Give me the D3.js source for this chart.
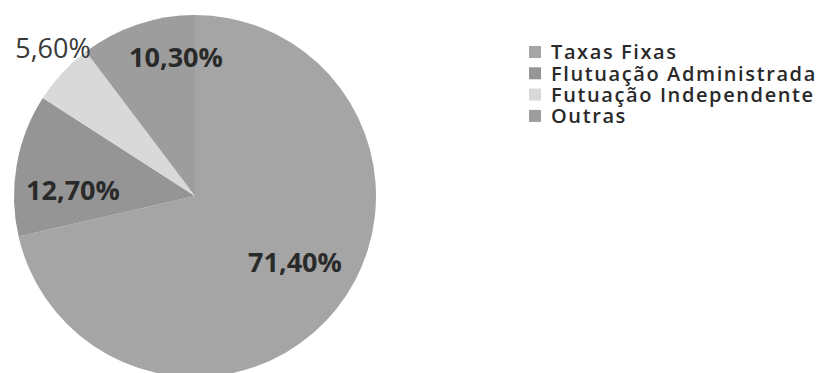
<!DOCTYPE html>
<html>
<head>
<meta charset="utf-8">
<script src="https://cdn.jsdelivr.net/npm/d3@7"></script>
<style>
  body { margin: 0; background: #fff; }
  text { font-family: 'Open Sans', sans-serif; }
</style>
</head>
<body>
<svg id="chart" width="821" height="373"></svg>
<script>
// data
const categories = ['Taxas Fixas', 'Flutuação Administrada', 'Futuação Independente', 'Outras']
const values = [71.4, 12.7, 5.6, 10.3]
const valueLabels = ['71,40%', '12,70%', '5,60%', '10,30%']

const colors = ['#a5a5a5', '#959595', '#d9d9d9', '#9d9d9d']
// where excel dropped the data labels (x, y, bold)
const labelPos = [[295, 262, 700], [73, 190, 700], [53, 48, 400], [176, 57, 700]]

let svg = d3.select('#chart')
let cx = 195
let cy = 196
let radius = 181

let pie = d3.pie().sort(null).value(d => d)
let arc = d3.arc().innerRadius(0).outerRadius(radius)

let g = svg.append('g')
    .attr('transform', 'translate(' + cx + ',' + cy + ')')

g.selectAll('path.slice')
    .data(pie(values))
  .enter().append('path')
    .attr('class', 'slice')
    .attr('d', arc)
    .attr('fill', (d, i) => colors[i])

svg.append('g')
    .attr('class', 'labels')
  .selectAll('text')
    .data(valueLabels)
  .enter().append('text')
    .attr('x', (d, i) => labelPos[i][0])
    .attr('y', (d, i) => labelPos[i][1])
    .attr('dy', '0.36em')
    .attr('text-anchor', 'middle')
    .attr('font-size', 27)
    .attr('font-weight', (d, i) => labelPos[i][2])
    .attr('fill', (d, i) => i === 2 ? '#3a3a3a' : '#2a2a2a')
    .text(d => d)

let legend = svg.append('g')
    .attr('class', 'legend')
    .attr('transform', 'translate(529,52)')

let item = legend.selectAll('g.item')
    .data(categories)
  .enter().append('g')
    .attr('class', 'item')
    .attr('transform', (d, i) => 'translate(0,' + (i * 21.3) + ')')

item.append('rect')
    .attr('x', 0)
    .attr('y', -6)
    .attr('width', 12)
    .attr('height', 12)
    .attr('fill', (d, i) => colors[i])

item.append('text')
    .attr('x', 22)
    .attr('dy', '0.36em')
    .attr('font-size', 20)
    .attr('font-weight', 600)
    .attr('letter-spacing', 1.6)
    .attr('fill', '#2a2a2a')
    .text(d => d)
</script>
</body>
</html>
